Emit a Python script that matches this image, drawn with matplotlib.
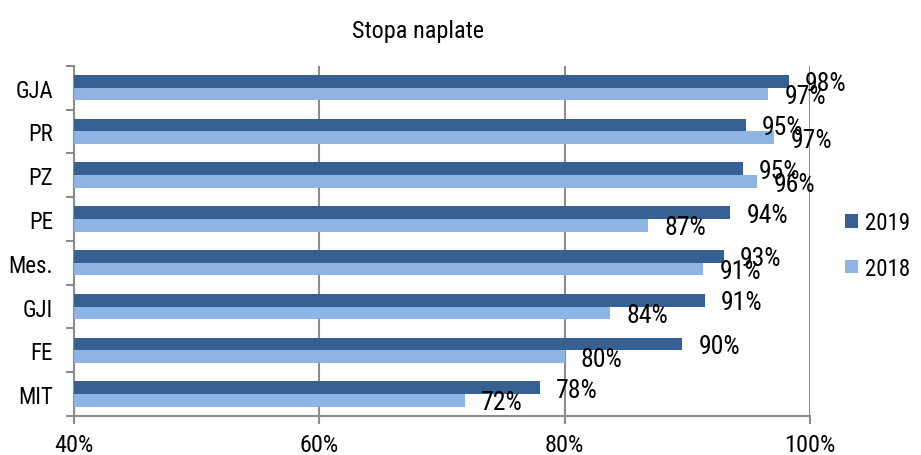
import numpy as np
import matplotlib
matplotlib.use("Agg")
import matplotlib.pyplot as plt
from matplotlib.font_manager import findfont, FontProperties

# data
categories = ["GJA", "PR", "PZ", "PE", "Mes.", "GJI", "FE", "MIT"]
rate_2019 = [98.3, 94.8, 94.5, 93.5, 93.0, 91.4, 89.6, 78.0]
rate_2018 = [96.6, 97.1, 95.7, 86.8, 91.3, 83.7, 80.0, 71.9]
labels_2019 = ["98%", "95%", "95%", "94%", "93%", "91%", "90%", "78%"]
labels_2018 = ["97%", "97%", "96%", "87%", "91%", "84%", "80%", "72%"]
x_ticks = [40, 60, 80, 100]

DARK = "#366092"
LIGHT = "#8EB4E3"
GRID = "#8C8C8C"

# narrow Arial look: take the first one installed
fam = "Liberation Sans"
for cand in ["Liberation Sans Narrow", "Arial Narrow", "Roboto Condensed", "Archivo Narrow"]:
    try:
        findfont(FontProperties(family=cand), fallback_to_default=False)
        fam = cand
        break
    except Exception:
        pass
plt.rcParams["font.family"] = [fam, "DejaVu Sans"]

fig = plt.figure(figsize=(9.21, 4.56), dpi=100)
ax = fig.add_axes([0.0803, 0.0855, 0.7992, 0.7682])

n = len(categories)
y = np.arange(n)[::-1]
h = 0.29

ax.barh(y + h / 2, rate_2019, height=h, left=0, color=DARK, label="2019", zorder=3)
ax.barh(y - h / 2, rate_2018, height=h, left=0, color=LIGHT, label="2018", zorder=3)

for yi, v, lab in zip(y, rate_2019, labels_2019):
    ax.annotate(lab, (v, yi + h / 2), xytext=(16, -2), textcoords="offset pixels",
                ha="left", va="center", fontsize=18.5, zorder=5)
for yi, v, lab in zip(y, rate_2018, labels_2018):
    ax.annotate(lab, (v, yi - h / 2), xytext=(16, -2), textcoords="offset pixels",
                ha="left", va="center", fontsize=18.5, zorder=5)

ax.set_xlim(40, 100)
ax.set_ylim(-0.5, n - 0.5)
ax.set_xticks(x_ticks)
ax.set_xticklabels([f"{t}%" for t in x_ticks], fontsize=17.5)
ax.xaxis.grid(True, color=GRID, linewidth=1.5, zorder=0)

# category labels centred, tick marks on the boundaries
ax.set_yticks(y)
ax.set_yticklabels(categories, fontsize=16.5)
ax.set_yticks(np.arange(-0.5, n, 1.0), minor=True)
ax.tick_params(axis="y", which="major", length=0, pad=15)
ax.tick_params(axis="y", which="minor", length=6, width=1.5, color=GRID, direction="out")
ax.tick_params(axis="x", length=6, width=1.5, color=GRID, pad=6)

for side in ["top", "right"]:
    ax.spines[side].set_visible(False)
for side in ["left", "bottom"]:
    ax.spines[side].set_color(GRID)
    ax.spines[side].set_linewidth(1.5)

fig.text(0.454, 0.93, "Stopa naplate", ha="center", va="center", fontsize=17.5)

fig.legend(loc="center left", bbox_to_anchor=(0.913, 0.46), frameon=False,
           fontsize=16.5, handlelength=0.55, handleheight=0.55, handletextpad=0.3,
           labelspacing=1.0, borderpad=0.2, borderaxespad=0)

fig.savefig("out.png", dpi=100)
